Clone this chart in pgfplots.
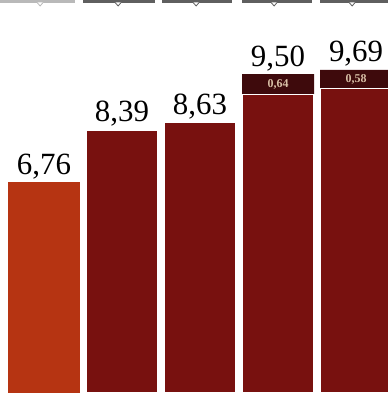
\documentclass[border=0pt]{standalone}
\usepackage{fontspec}
\setmainfont{Liberation Serif}
\usepackage{pgfplots}
\pgfplotsset{compat=1.18}
\definecolor{barA}{RGB}{182,52,18}
\definecolor{barB}{RGB}{120,17,15}
\definecolor{barTop}{RGB}{62,10,12}
\definecolor{lblTop}{RGB}{215,190,165}
\definecolor{tabA}{RGB}{185,185,185}
\definecolor{tabB}{RGB}{95,95,95}
\begin{document}
\begin{tikzpicture}
\begin{axis}[
  scale only axis, width=388bp, height=393bp,
  xmin=-0.564, xmax=4.41, ymin=0.15, ymax=12.46,
  axis lines=none, clip=true,
]
% dark top segments: totals 9.50+0.64 and 9.69+0.58 (drawn full height, overlaid by red base)
\addplot[ybar, bar width=72bp, bar shift=0pt, fill=barTop, draw=none]
  coordinates {(3,10.14) (4,10.27)};
% base bars
\addplot[ybar, bar width=72bp, bar shift=0pt, fill=barA, draw=none]
  coordinates {(0,6.76)};
\addplot[ybar, bar width=72bp, bar shift=0pt, fill=barB, draw=white, line width=1.2bp]
  coordinates {(1,8.39) (2,8.63) (3,9.50) (4,9.69)};
% total labels
\addplot[only marks, mark=none, point meta=explicit symbolic,
  nodes near coords, every node near coord/.append style={font=\fontsize{31}{32}\selectfont, text=black, inner sep=0pt, anchor=south, yshift=3bp}]
  coordinates {(0,6.76)[6,76] (1,8.39)[8,39] (2,8.63)[8,63] (3,10.14)[9,50] (4,10.27)[9,69]};
% segment labels
\addplot[only marks, mark=none, point meta=explicit symbolic,
  nodes near coords, every node near coord/.append style={font=\fontsize{12}{13}\selectfont\bfseries, text=lblTop, inner sep=0pt, anchor=center}]
  coordinates {(3,9.82)[0,64] (4,9.98)[0,58]};
% top tabs (decoration)
\fill[tabA] (axis cs:-0.564,12.46) rectangle ([yshift=-3bp]axis cs:0.397,12.46);
\fill[tabB] (axis cs:0.500,12.46) rectangle ([yshift=-3bp]axis cs:1.423,12.46);
\fill[tabB] (axis cs:1.513,12.46) rectangle ([yshift=-3bp]axis cs:2.410,12.46);
\fill[tabB] (axis cs:2.538,12.46) rectangle ([yshift=-3bp]axis cs:3.436,12.46);
\fill[tabB] (axis cs:3.538,12.46) rectangle ([yshift=-3bp]axis cs:4.410,12.46);
\filldraw[fill=white, draw=tabA, line width=0.8bp] ([xshift=-3bp,yshift=-2.5bp]axis cs:-0.05,12.46) -- ([yshift=-6bp]axis cs:-0.05,12.46) -- ([xshift=3bp,yshift=-2.5bp]axis cs:-0.05,12.46);
\filldraw[fill=white, draw=tabB, line width=0.8bp] ([xshift=-3bp,yshift=-2.5bp]axis cs:0.95,12.46) -- ([yshift=-6bp]axis cs:0.95,12.46) -- ([xshift=3bp,yshift=-2.5bp]axis cs:0.95,12.46);
\filldraw[fill=white, draw=tabB, line width=0.8bp] ([xshift=-3bp,yshift=-2.5bp]axis cs:1.95,12.46) -- ([yshift=-6bp]axis cs:1.95,12.46) -- ([xshift=3bp,yshift=-2.5bp]axis cs:1.95,12.46);
\filldraw[fill=white, draw=tabB, line width=0.8bp] ([xshift=-3bp,yshift=-2.5bp]axis cs:2.95,12.46) -- ([yshift=-6bp]axis cs:2.95,12.46) -- ([xshift=3bp,yshift=-2.5bp]axis cs:2.95,12.46);
\filldraw[fill=white, draw=tabB, line width=0.8bp] ([xshift=-3bp,yshift=-2.5bp]axis cs:3.95,12.46) -- ([yshift=-6bp]axis cs:3.95,12.46) -- ([xshift=3bp,yshift=-2.5bp]axis cs:3.95,12.46);
\end{axis}
\end{tikzpicture}
\end{document}
